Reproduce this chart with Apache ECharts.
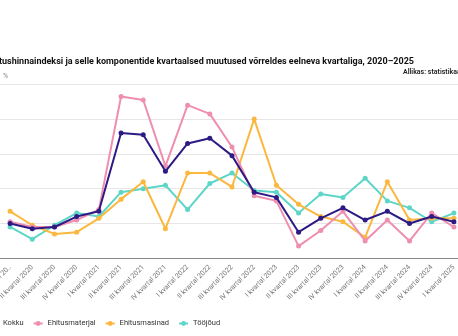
<!DOCTYPE html>
<html>
<head>
<meta charset="utf-8">
<script src="https://cdn.jsdelivr.net/npm/echarts@6/dist/echarts.min.js"></script>
<style>
html,body{margin:0;padding:0;background:#fff;}
#c{width:458px;height:336px;}
</style>
</head>
<body>
<div id="c"></div>
<script>
const categories = ['I kvartal 2020','II kvartal 2020','III kvartal 2020','IV kvartal 2020',
  'I kvartal 2021','II kvartal 2021','III kvartal 2021','IV kvartal 2021',
  'I kvartal 2022','II kvartal 2022','III kvartal 2022','IV kvartal 2022',
  'I kvartal 2023','II kvartal 2023','III kvartal 2023','IV kvartal 2023',
  'I kvartal 2024','II kvartal 2024','III kvartal 2024','IV kvartal 2024',
  'I kvartal 2025'];
const kokku = [0.0, -0.3, -0.2, 0.4, 0.7, 5.2, 5.1, 3.0, 4.6, 4.9, 3.9, 1.8, 1.5, -0.5, 0.3, 0.9, 0.2, 0.7, 0.0, 0.4, 0.1];
const ehitusmaterjal = [0.1, -0.2, -0.2, 0.2, 0.8, 7.3, 7.1, 3.3, 6.8, 6.3, 4.4, 1.6, 1.3, -1.3, -0.4, 0.7, -1.0, 0.2, -1.0, 0.6, -0.2];
const ehitusmasinad = [0.7, -0.1, -0.6, -0.5, 0.3, 1.4, 2.4, -0.3, 2.9, 2.9, 2.1, 6.0, 2.2, 1.1, 0.4, 0.1, -0.8, 2.4, 0.2, 0.3, 0.3];
const toojoud = [-0.2, -0.9, -0.1, 0.6, 0.4, 1.8, 2.0, 2.2, 0.8, 2.3, 2.9, 1.9, 1.8, 0.6, 1.7, 1.5, 2.6, 1.3, 0.9, 0.1, 0.6];
const seriesNames = ['Kokku','Ehitusmaterjal','Ehitusmasinad','Tööjõud'];
const colors = ['#2d1a85','#ee8fb0','#fbb73e','#5ed6c7'];
const titleText = 'Ehitushinnaindeksi ja selle komponentide kvartaalsed muutused võrreldes eelneva kvartaliga, 2020–2025';
const sourceText = 'Allikas: statistikaamet';
const unitText = '%';

const font = 'Roboto, "Noto Sans", sans-serif';
const chart = echarts.init(document.getElementById('c'), null, {renderer:'canvas'});
function mk(name, data, i){
  return {name:name, type:'line', data:data, color:colors[i],
    symbol:'circle', symbolSize:5, lineStyle:{width:2}, itemStyle:{color:colors[i]},
    z: 10 - i, animation:false};
}
chart.setOption({
  animation:false,
  textStyle:{fontFamily:font},
  title:{text:titleText, right:44, top:57.5, padding:0,
    textStyle:{fontSize:9, fontWeight:'bold', color:'#111', fontFamily:font}},
  graphic:[
    {type:'text', left:403, top:68.5, style:{text:sourceText, fontSize:7, fontWeight:600, fill:'#222', fontFamily:font}},
    {type:'text', left:3, top:73, style:{text:unitText, fontSize:7, fill:'#888', fontFamily:font}}
  ],
  legend:{left:-12, top:319.5, padding:0, itemWidth:9, itemHeight:6, itemGap:9,
    textStyle:{fontSize:7.5, color:'#333', fontFamily:font},
    data:seriesNames},
  grid:{left:-1, right:-7, top:84.3, bottom:77.7, containLabel:false, outerBoundsMode:'none'},
  xAxis:{type:'category', data:categories, boundaryGap:true,
    axisLine:{onZero:false, lineStyle:{color:'#888', width:1.2}},
    axisTick:{show:false},
    axisLabel:{rotate:45, fontSize:7, color:'#777', margin:8, interval:0,
      formatter:function(v,i){return i===0 ? 'I kvartal 20..' : v;}}},
  yAxis:{type:'value', min:-2, max:8, interval:2,
    axisLabel:{show:false}, axisLine:{show:false}, axisTick:{show:false},
    splitLine:{lineStyle:{color:'#e6e6e6', width:1}}},
  series:[mk(seriesNames[0],kokku,0), mk(seriesNames[1],ehitusmaterjal,1), mk(seriesNames[2],ehitusmasinad,2), mk(seriesNames[3],toojoud,3)]
});
</script>
</body>
</html>
